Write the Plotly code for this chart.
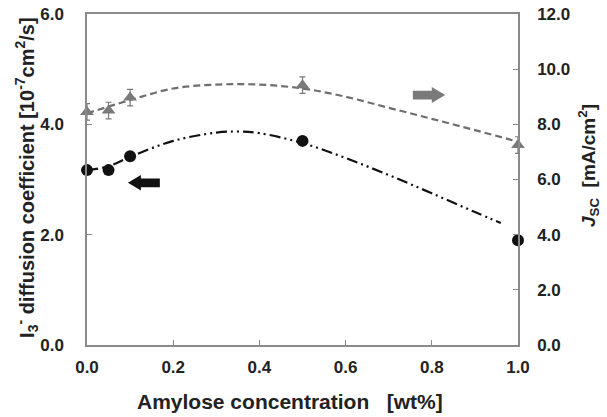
import plotly.graph_objects as go

# Data
amylose = [0.0, 0.05, 0.1, 0.5, 1.0]
diffusion = [3.17, 3.17, 3.42, 3.70, 1.90]          # left axis, 10^-7 cm2/s
jsc = [8.45, 8.50, 8.97, 9.42, 7.25]                # right axis, mA/cm2
jsc_err = [0.3, 0.3, 0.3, 0.3, 0.3]

# trend curves
trend_x_d = [0.0, 0.05, 0.1, 0.2, 0.3, 0.35, 0.4, 0.5, 0.6, 0.7, 0.8, 0.9, 0.96]
trend_d = [3.17, 3.24, 3.41, 3.70, 3.85, 3.87, 3.84, 3.66, 3.39, 3.08, 2.75, 2.41, 2.21]
trend_x_j = [0.0, 0.1, 0.2, 0.3, 0.4, 0.5, 0.6, 0.7, 0.8, 0.9, 1.0]
trend_j = [8.40, 8.88, 9.30, 9.44, 9.44, 9.30, 9.00, 8.60, 8.20, 7.79, 7.37]

x_ticks = [0.0, 0.2, 0.4, 0.6, 0.8, 1.0]
y_ticks = [0.0, 2.0, 4.0, 6.0]
y2_ticks = [0.0, 2.0, 4.0, 6.0, 8.0, 10.0, 12.0]

FONT = "Liberation Sans"
GRAY = "#7a7a7a"
AX = "#8a8a8a"
TXT = "#222222"

fig = go.Figure()

fig.add_trace(go.Scatter(x=trend_x_j, y=trend_j, yaxis="y2", mode="lines",
                         line=dict(color="#6e6e6e", width=2.2, dash="7px,4px"),
                         line_shape="spline", hoverinfo="skip", showlegend=False))
fig.add_trace(go.Scatter(x=trend_x_d, y=trend_d, mode="lines",
                         line=dict(color="#111111", width=2.2, dash="11px,4px,2px,4px,2px,4px"),
                         line_shape="spline", hoverinfo="skip", showlegend=False))
fig.add_trace(go.Scatter(x=amylose, y=jsc, yaxis="y2", mode="markers",
                         marker=dict(symbol="triangle-up", size=12, color=GRAY),
                         error_y=dict(type="data", array=jsc_err, color=GRAY, thickness=1.2, width=3),
                         cliponaxis=False, showlegend=False))
fig.add_trace(go.Scatter(x=amylose, y=diffusion, mode="markers",
                         marker=dict(symbol="circle", size=12, color="#111111"),
                         cliponaxis=False, showlegend=False))

# block arrows (decoration)
fig.add_shape(type="path", xref="x", yref="y",
              path="M 0.095,2.94 L 0.125,3.08 L 0.125,3.02 L 0.169,3.02 L 0.169,2.86 "
                   "L 0.125,2.86 L 0.125,2.80 Z",
              fillcolor="#111111", line=dict(width=0))
fig.add_shape(type="path", xref="x", yref="y2",
              path="M 0.831,9.06 L 0.80,9.35 L 0.80,9.22 L 0.756,9.22 L 0.756,8.90 "
                   "L 0.80,8.90 L 0.80,8.77 Z",
              fillcolor="#7a7a7a", line=dict(width=0))

tickfont = dict(family=FONT, size=17, color=TXT)
common = dict(showline=True, linecolor=AX, linewidth=1.5, ticks="inside", ticklen=5,
              tickcolor=AX, showgrid=False, zeroline=False, tickfont=tickfont,
              automargin=False, ticklabeloverflow="allow")
fig.update_layout(
    width=607, height=417,
    margin=dict(l=87, r=89, t=14, b=72),
    paper_bgcolor="white", plot_bgcolor="white",
    font=dict(family=FONT),
    xaxis=dict(range=[0, 1], tickvals=x_ticks, ticktext=[f"<b>{v:.1f}</b>" for v in x_ticks],
               mirror=True, ticklabelstandoff=6, **common),
    yaxis=dict(range=[0, 6], tickvals=y_ticks, ticktext=[f"<b>{v:.1f}</b>" for v in y_ticks],
               ticklabelstandoff=18, **common),
    yaxis2=dict(range=[0, 12], tickvals=y2_ticks, ticktext=[f"<b>{v:.1f}</b>" for v in y2_ticks],
                overlaying="y", side="right", ticklabelstandoff=14, **common),
    annotations=[
        dict(text="<b>Amylose concentration   [wt%]</b>", xref="paper", yref="paper",
             x=0.471, y=-0.172, xanchor="center", yanchor="middle", showarrow=False,
             font=dict(family=FONT, size=21, color=TXT)),
        dict(text="<b>I<sub>3</sub><sup>-</sup> diffusion coefficient [10<sup>-7</sup>cm<sup>2</sup>/s]</b>",
             xref="paper", yref="paper", x=-0.139, y=0.505, xanchor="center", yanchor="middle",
             textangle=-90, showarrow=False, font=dict(family=FONT, size=20, color=TXT)),
        dict(text="<b><i>J</i><sub>SC</sub>  [mA/cm<sup>2</sup>]</b>",
             xref="paper", yref="paper", x=1.165, y=0.541, xanchor="center", yanchor="middle",
             textangle=-90, showarrow=False, font=dict(family=FONT, size=19, color=TXT)),
    ],
)

fig.write_html("out.html", config={"displayModeBar": False},
               post_script="document.body.style.margin='0';")
